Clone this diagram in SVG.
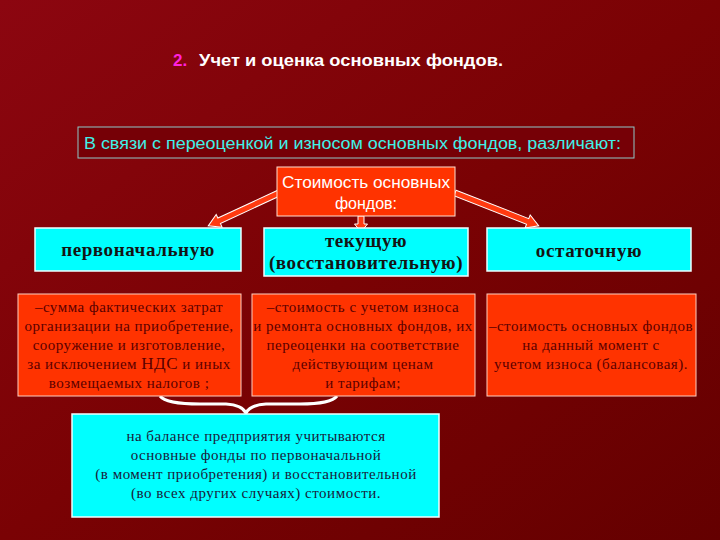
<svg xmlns="http://www.w3.org/2000/svg" width="720" height="540" viewBox="0 0 720 540">
<defs>
<linearGradient id="bg" x1="0" y1="0" x2="1" y2="1">
<stop offset="0" stop-color="#8c0610"/>
<stop offset="0.5" stop-color="#7a0204"/>
<stop offset="1" stop-color="#640000"/>
</linearGradient>
<style>
.cyan{fill:#00ffff;stroke:#f0ffff;stroke-width:1.5}
.red{fill:#ff3300;stroke:#ffd0c0;stroke-width:1}
.hd{font-family:"Liberation Serif","Times New Roman",serif;font-weight:bold;font-size:19px;letter-spacing:0.6px;fill:#141414;text-anchor:middle}
.bt{font-family:"Liberation Serif","Times New Roman",serif;font-size:15px;letter-spacing:0.5px;fill:#5a0000;text-anchor:middle}
.bb{font-family:"Liberation Serif","Times New Roman",serif;font-size:15px;letter-spacing:0.5px;fill:#1a1a3a;text-anchor:middle}
.arr{fill:#ff3a10;stroke:#ffffff;stroke-width:1}
</style>
</defs>
<rect width="720" height="540" fill="url(#bg)"/>

<g id="title">
<text x="173" y="66" font-family="'Liberation Sans',Arial,sans-serif" font-size="17" font-weight="bold"><tspan fill="#ff22dd">2.</tspan><tspan fill="#ffffff" x="199" textLength="304" lengthAdjust="spacingAndGlyphs">Учет и оценка основных фондов.</tspan></text>
</g>

<g id="intro">
<rect x="78" y="127" width="556" height="31" fill="#760006" stroke="#90c8c8" stroke-width="1"/>
<text x="84" y="149" font-family="'Liberation Sans',Arial,sans-serif" font-size="16" fill="#40f0e8" textLength="537" lengthAdjust="spacingAndGlyphs">В связи с переоценкой и износом основных фондов, различают:</text>
</g>

<g id="connectors">
<polygon class="arr" transform="translate(279,193) rotate(155.1)" points="0,-3 66,-3 66,-7 78,0 66,7 66,3 0,3"/>
<polygon class="arr" transform="translate(455,193) rotate(21.4)" points="0,-3 78,-3 78,-7 90,0 78,7 78,3 0,3"/>
<polygon class="arr" transform="translate(361,216) rotate(90)" points="0,-3 8,-3 8,-6.5 16,0 8,6.5 8,3 0,3"/>
<path d="M160,396 Q166,404 200,404 L226,404 Q242,405 246,413 Q250,405 266,404 L300,404 Q331,404 337,396" fill="none" stroke="#ffffff" stroke-width="3" stroke-linejoin="round"/>
</g>

<g id="cost">
<rect x="277" y="167" width="178" height="49" fill="#ff3300" stroke="#ffe0d0" stroke-width="1"/>
<text x="366" y="188" font-family="'Liberation Sans',Arial,sans-serif" font-size="16" fill="#ffffff" text-anchor="middle" textLength="168" lengthAdjust="spacingAndGlyphs">Стоимость основных</text>
<text x="366" y="209" font-family="'Liberation Sans',Arial,sans-serif" font-size="16" fill="#ffffff" text-anchor="middle">фондов:</text>
</g>

<g id="initial">
<rect class="cyan" x="35" y="228" width="206" height="43"/>
<text class="hd" x="138" y="256">первоначальную</text>
</g>

<g id="current">
<rect class="cyan" x="264" y="228" width="204" height="48"/>
<text class="hd" x="366" y="247">текущую</text>
<text class="hd" x="366" y="269">(восстановительную)</text>
</g>

<g id="residual">
<rect class="cyan" x="487" y="228" width="204" height="43"/>
<text class="hd" x="589" y="257">остаточную</text>
</g>

<g id="initial-desc">
<rect class="red" x="18" y="294" width="223" height="102"/>
<text class="bt" x="129" y="312">–сумма фактических затрат</text>
<text class="bt" x="129" y="331">организации на приобретение,</text>
<text class="bt" x="129" y="350">сооружение и изготовление,</text>
<text class="bt" x="129" y="369">за исключением <tspan font-size="17">НДС</tspan> и иных</text>
<text class="bt" x="129" y="388">возмещаемых налогов ;</text>
</g>

<g id="current-desc">
<rect class="red" x="252" y="294" width="223" height="102"/>
<text class="bt" x="363" y="312">–стоимость с учетом износа</text>
<text class="bt" x="363" y="331">и ремонта основных фондов, их</text>
<text class="bt" x="363" y="350">переоценки на соответствие</text>
<text class="bt" x="363" y="369">действующим ценам</text>
<text class="bt" x="363" y="388">и тарифам;</text>
</g>

<g id="residual-desc">
<rect class="red" x="487" y="294" width="209" height="102"/>
<text class="bt" x="591" y="331">–стоимость основных фондов</text>
<text class="bt" x="591" y="350">на данный момент с</text>
<text class="bt" x="591" y="369">учетом износа (балансовая).</text>
</g>

<g id="balance">
<rect class="cyan" x="72" y="414" width="367" height="103"/>
<text class="bb" x="256" y="441">на балансе предприятия учитываются</text>
<text class="bb" x="256" y="460">основные фонды по первоначальной</text>
<text class="bb" x="256" y="479">(в момент приобретения) и восстановительной</text>
<text class="bb" x="256" y="498">(во всех других случаях) стоимости.</text>
</g>
</svg>
